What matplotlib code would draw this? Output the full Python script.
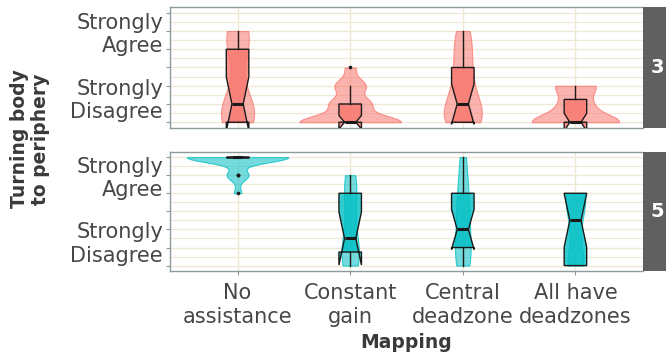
import numpy as np
import matplotlib
matplotlib.use("Agg")
import matplotlib.pyplot as plt
from matplotlib.colors import to_rgba

plt.rcParams["font.family"] = ["DejaVu Sans"]

# Likert response levels and the categories on the x axis
levels = [1, 2, 3, 4, 5, 6, 7]
categories = ["No\nassistance", "Constant\ngain", "Central\ndeadzone", "All have\ndeadzones"]
y_tick_labels = ["Strongly\nDisagree", "", "", "", "", "", "Strongly\nAgree"]
panel_names = ["3", "5"]
panel_colors = ["#F8766D", "#00BFC4"]

# Number of responses at each level (1..7), one list per mapping
counts_panel3 = [
    [6, 4, 1, 0, 3, 4, 0],
    [10, 4, 3, 1, 0, 0, 0],
    [6, 4, 2, 2, 2, 2, 0],
    [9, 3, 4, 0, 0, 0, 0],
]
counts_panel5 = [
    [0, 0, 0, 0, 1, 3, 14],
    [3, 3, 1, 1, 2, 2, 0],
    [4, 3, 3, 2, 3, 1, 2],
    [6, 1, 2, 3, 6, 0, 0],
]


def expand(counts):
    return np.repeat(levels, counts).astype(float)


def bw_nrd0(x):
    hi = np.std(x, ddof=1)
    q75, q25 = np.percentile(x, [75, 25])
    lo = min(hi, (q75 - q25) / 1.34)
    if lo == 0:
        lo = hi or abs(x[0]) or 1.0
    return 0.9 * lo * len(x) ** -0.2


def density(x, grid):
    bw = bw_nrd0(x)
    z = (grid[:, None] - x[None, :]) / bw
    return np.exp(-0.5 * z ** 2).sum(axis=1) / (len(x) * bw * np.sqrt(2 * np.pi))


W, H = 666, 361
fig = plt.figure(figsize=(W / 100, H / 100), dpi=100)

panel_px = [(7.3, 127.7), (151.7, 271.0)]
left_px, right_px, strip_right = 170, 643, 672

text_col = "#474747"
title_col = "#3A3A3A"
grid_col = "#EFE8D6"
spine_col = "#8E9A9A"
ink = "#1A1A1A"

for pi, (top, bot) in enumerate(panel_px):
    ax = fig.add_axes([left_px / W, 1 - bot / H, (right_px - left_px) / W, (bot - top) / H])
    color = panel_colors[pi]
    counts = counts_panel3 if pi == 0 else counts_panel5
    data = [expand(c) for c in counts]
    positions = np.arange(1, len(categories) + 1)

    # violins: density trimmed to the data range, widest one spans 0.9
    grids = [np.linspace(d.min(), d.max(), 512) for d in data]
    dens = [density(d, g) for d, g in zip(data, grids)]
    dmax = max(dd.max() for dd in dens)
    for pos, g, dd in zip(positions, grids, dens):
        hw = 0.45 * dd / dmax
        ax.fill_betweenx(g, pos - hw, pos + hw, facecolor=to_rgba(color, 0.55),
                         edgecolor=to_rgba(color, 0.75), linewidth=0.8, zorder=2)

    ax.boxplot(data, positions=positions, widths=0.2, notch=True, patch_artist=True,
               showcaps=False, whis=1.5, manage_ticks=False, zorder=3,
               boxprops=dict(facecolor=to_rgba(color, 0.8), edgecolor=ink, linewidth=1.0),
               medianprops=dict(color=ink, linewidth=2.2),
               whiskerprops=dict(color=ink, linewidth=1.0),
               flierprops=dict(marker="o", markersize=2.6, markerfacecolor=ink,
                               markeredgecolor="none"))

    ax.set_xlim(0.4, 4.6)
    ax.set_ylim(0.7, 7.3)
    ax.set_yticks(levels)
    ax.set_yticks(np.arange(1.5, 7, 1.0), minor=True)
    ax.set_yticklabels(y_tick_labels, fontsize=15, color=text_col, ha="right",
                       multialignment="right", linespacing=1.2)
    labels = ax.get_yticklabels()
    labels[0].set_va("bottom")
    labels[-1].set_va("top")
    ax.tick_params(axis="y", which="major", length=3, width=0.8, color=spine_col, pad=2)
    ax.tick_params(axis="y", which="minor", length=0)
    ax.set_xticks(positions)
    ax.grid(which="major", color=grid_col, linewidth=1.0, zorder=0)
    ax.grid(which="minor", axis="y", color=grid_col, linewidth=0.8, zorder=0)
    ax.set_axisbelow(True)
    for s in ax.spines.values():
        s.set_color(spine_col)
        s.set_linewidth(1.0)
    ax.spines["right"].set_visible(False)

    if pi == 0:
        ax.tick_params(axis="x", length=0, labelbottom=False)
    else:
        ax.set_xticklabels(categories, fontsize=15, color=text_col, linespacing=1.25)
        ax.tick_params(axis="x", length=3, width=0.8, color=spine_col, pad=5.5)

    # facet strip on the right
    sax = fig.add_axes([right_px / W, 1 - bot / H, (strip_right - right_px) / W, (bot - top) / H])
    sax.set_facecolor("#606060")
    sax.set_xticks([])
    sax.set_yticks([])
    for s in sax.spines.values():
        s.set_visible(False)
    sax.text(0.5, 0.5, panel_names[pi], transform=sax.transAxes, ha="center", va="center",
             color="white", fontsize=14, fontweight="bold")

fig.text((left_px + right_px) / 2 / W, 1 - 348 / H, "Mapping", ha="center", va="baseline",
         fontsize=13.5, fontweight="bold", color=title_col)
fig.text(30 / W, 1 - 139 / H, "Turning body\nto periphery", rotation=90, ha="center",
         va="center", multialignment="center", fontsize=13.5, fontweight="bold",
         color=title_col, linespacing=1.1)

fig.savefig("out.png", dpi=100)
